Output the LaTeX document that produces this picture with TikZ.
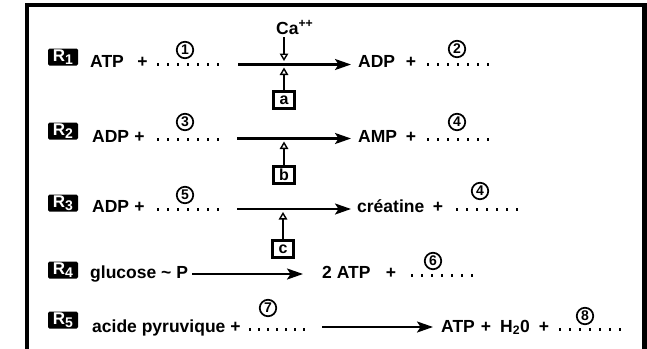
\documentclass[tikz,border=0pt]{standalone}
\usepackage{fontspec}
\setmainfont{Liberation Sans}
\usetikzlibrary{arrows.meta}
\newcommand\dotsrow[4]{\foreach \i in {0,...,6}{\fill ({#1+\i*#3-1.4},{#2-1.4}) rectangle ({#1+\i*#3+1.4},{#2+1.4});}}
\begin{document}
\begin{tikzpicture}[x=1pt,y=-1pt,
  txt/.style={font=\bfseries\fontsize{17.5}{17.5}\selectfont, inner sep=0pt, anchor=base west},
  plus/.style={font=\bfseries\fontsize{17.5}{17.5}\selectfont, inner sep=0pt, anchor=base},
  rlab/.style={fill=black, text=white, rounded corners=1.5pt, minimum width=30pt, minimum height=17pt, inner sep=0pt, font=\bfseries\fontsize{17}{17}\selectfont},
  num/.style={circle, draw, line width=1.7pt, minimum size=16.5pt, inner sep=0pt, font=\bfseries\fontsize{14}{14}\selectfont},
  enz/.style={draw, line width=2.2pt, minimum width=21pt, minimum height=17pt, inner sep=0pt, font=\bfseries\fontsize{16}{16}\selectfont},
  react/.style={line width=2.3pt, -{Stealth[length=16pt,width=11pt,inset=3.5pt]}},
  reg/.style={line width=1.7pt, -{Triangle[open,length=7.5pt,width=8.5pt,line width=1.4pt]}}
]
\useasboundingbox (0,0) rectangle (647,348);
\clip (0,0) rectangle (647,348);
\fill[white] (0,0) rectangle (647,348);
\draw[line width=4.5pt] (27,5) rectangle (644.5,380);

% R1
\node[rlab] (r1) at (63,57) {R\raisebox{-3pt}{\fontsize{14}{14}\selectfont 1}};
\node[txt] (atp1) at (90,67) {ATP};
\node[plus] (p1a) at (142.5,67) {+};
\dotsrow{158}{64.5}{10}{}
\node[num] (n1) at (185,50) {1};
\coordinate (r1s) at (238,64.5);
\coordinate (r1e) at (351,64.5);
\draw[react] (r1s) -- (r1e);
\node[txt] (adp1) at (358,67) {ADP};
\node[plus] (p1b) at (411,67) {+};
\dotsrow{428}{64.5}{10}{}
\node[num] (n2) at (457,49) {2};
\node[txt] (ca) at (276,34) {Ca\textsuperscript{++}};
\node[enz] (a) at (284,100) {a};
\coordinate (ca1) at (284,37);
\coordinate (ca2) at (284,61);
\coordinate (a2) at (284,67.5);
\draw[reg] (ca1) -- (ca2);
\draw[reg] (a.north) -- (a2);

% R2
\node[rlab] (r2) at (63,131) {R\raisebox{-3pt}{\fontsize{14}{14}\selectfont 2}};
\node[txt] (adp2) at (92,142) {ADP};
\node[plus] (p2a) at (139.5,142) {+};
\dotsrow{158}{139.5}{10}{}
\node[num] (n3) at (185,122) {3};
\coordinate (r2s) at (237,138.5);
\coordinate (r2e) at (351,138.5);
\draw[react] (r2s) -- (r2e);
\node[txt] (amp2) at (358,142) {AMP};
\node[plus] (p2b) at (411,142) {+};
\dotsrow{428}{139.5}{10}{}
\node[num] (n4) at (457,122) {4};
\node[enz] (b) at (284,175) {b};
\coordinate (b2) at (284,141.5);
\draw[reg] (b.north) -- (b2);

% R3
\node[rlab] (r3) at (63,203) {R\raisebox{-3pt}{\fontsize{14}{14}\selectfont 3}};
\node[txt] (adp3) at (92,212) {ADP};
\node[plus] (p3a) at (139.5,212) {+};
\dotsrow{158}{209.5}{10}{}
\node[num] (n5) at (185,195) {5};
\coordinate (r3s) at (237,209);
\coordinate (r3e) at (351,209);
\draw[react] (r3s) -- (r3e);
\node[txt] (cre) at (357,212) {créatine};
\node[plus] (p3b) at (438,212) {+};
\dotsrow{457}{209.5}{10}{}
\node[num] (n4b) at (480,191) {4};
\node[enz] (c) at (283,249) {c};
\coordinate (c2) at (283,212);
\draw[reg] (c.north) -- (c2);

% R4
\node[rlab] (r4) at (63,270) {R\raisebox{-3pt}{\fontsize{14}{14}\selectfont 4}};
\node[txt] (glu) at (90,278) {glucose \textasciitilde{} P};
\coordinate (r4s) at (192,274);
\coordinate (r4e) at (303,274);
\draw[react] (r4s) -- (r4e);
\node[txt] (atp4) at (322,278) {2 ATP};
\node[plus] (p4) at (391,278) {+};
\dotsrow{412}{275.5}{10}{}
\node[num] (n6) at (433,261) {6};

% R5
\node[rlab] (r5) at (63,320) {R\raisebox{-3pt}{\fontsize{14}{14}\selectfont 5}};
\node[txt] (acp) at (92,332) {acide pyruvique +};
\dotsrow{250}{329.5}{9}{}
\node[num] (n7) at (268,308) {7};
\coordinate (r5s) at (322,327);
\coordinate (r5e) at (433,327);
\draw[react] (r5s) -- (r5e);
\node[txt] (atp5) at (441,332) {ATP};
\node[plus] (p5a) at (486,332) {+};
\node[txt] (h2o) at (500,332) {H\textsubscript{2}0};
\node[plus] (p5b) at (544,332) {+};
\dotsrow{560}{329.5}{10}{}
\node[num] (n8) at (585,316) {8};
\end{tikzpicture}
\end{document}
